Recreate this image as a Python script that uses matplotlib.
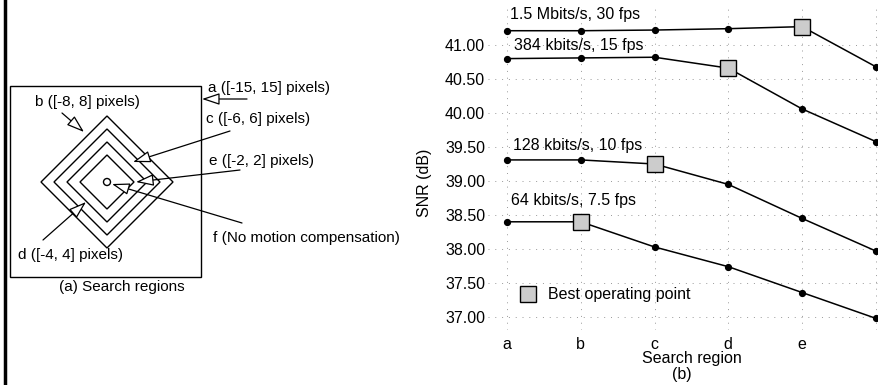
import matplotlib
matplotlib.use("Agg")
import matplotlib.pyplot as plt
from matplotlib.lines import Line2D
from matplotlib.patches import Rectangle, Polygon, Circle

plt.rcParams["font.family"] = ["Liberation Sans", "DejaVu Sans"]
plt.rcParams["font.size"] = 11.5

# --- datos de la grafica (b) ---
regiones = ["a", "b", "c", "d", "e", "f"]
etiquetas = ["1.5 Mbits/s, 30 fps", "384 kbits/s, 15 fps",
             "128 kbits/s, 10 fps", "64 kbits/s, 7.5 fps"]
snr_1500k = [41.21, 41.21, 41.22, 41.24, 41.27, 40.68]
snr_384k = [40.80, 40.81, 40.82, 40.66, 40.06, 39.58]
snr_128k = [39.31, 39.31, 39.25, 38.95, 38.45, 37.97]
snr_64k = [38.40, 38.40, 38.03, 37.74, 37.36, 36.98]
mejor_punto = [4, 3, 2, 1]  # indice de la region optima de cada serie
y_ticks = [37.0, 37.5, 38.0, 38.5, 39.0, 39.5, 40.0, 40.5, 41.0]

# --- textos del diagrama (a) ---
rangos = ["a ([-15, 15] pixels)", "b ([-8, 8] pixels)", "c ([-6, 6] pixels)",
          "d ([-4, 4] pixels)", "e ([-2, 2] pixels)", "f (No motion compensation)"]

gris = "#cccccc"

fig = plt.figure(figsize=(8.79, 3.85), dpi=100)

# capa en pixeles para el diagrama de la izquierda
ax0 = fig.add_axes([0, 0, 1, 1])
ax0.set_xlim(0, 879)
ax0.set_ylim(385, 0)
ax0.axis("off")

ax0.plot([5, 5], [0, 385], color="black", lw=2.5)
ax0.add_patch(Rectangle((10, 86), 191, 191, fill=False, ec="black", lw=1))
cx, cy = 107, 182
for h in [66, 53, 40, 27]:
    ax0.add_patch(Polygon([(cx - h, cy), (cx, cy - h), (cx + h, cy), (cx, cy + h)],
                          closed=True, fill=False, ec="black", lw=1))
ax0.add_patch(Circle((cx, cy), 3.5, fc="white", ec="black", lw=1, zorder=3))

flecha = dict(arrowstyle="-|>,head_length=0.9,head_width=0.3", fc="white",
              ec="black", lw=0.9, mutation_scale=12, shrinkA=0, shrinkB=0)
textos = [(208, 88), (35, 102), (206, 119), (18, 255), (209, 161), (213, 238)]
puntas = [((247, 99), (202, 99)), ((62, 113), (84, 132)), ((230, 131), (133, 162)),
          ((43, 240), (86, 202)), ((240, 170), (136, 182)), ((242, 223), (112, 184))]
for txt, pos, (cola, punta) in zip(rangos, textos, puntas):
    ax0.text(pos[0], pos[1], txt, ha="left", va="center", fontsize=11)
    ax0.annotate("", xy=punta, xytext=cola, arrowprops=flecha)
ax0.text(122, 287, "(a) Search regions", ha="center", va="center", fontsize=11)

# --- grafica (b) ---
ax = fig.add_axes([488 / 879, 55 / 385, 410 / 879, 325 / 385])
x = list(range(len(regiones)))
series = [snr_1500k, snr_384k, snr_128k, snr_64k]
desfases = [(3, 16), (7, 13), (6, 14), (4, 21)]
for serie, etiqueta, idx, d in zip(series, etiquetas, mejor_punto, desfases):
    ax.plot(x, serie, color="black", lw=1.1, marker="o", ms=4.2, zorder=3)
    ax.plot(x[idx], serie[idx], marker="s", ms=11.5, mfc=gris, mec="black",
            mew=1, ls="none", zorder=4)
    ax.annotate(etiqueta, xy=(0, serie[0]), xytext=d, textcoords="offset pixels",
                ha="left", va="center")

ax.set_xlim(-0.257, 5.3)
ax.set_ylim(41 - 285 / 68, 41 + 40 / 68)
ax.set_xticks(x)
ax.set_xticklabels(regiones[:5] + [""])
ax.set_yticks(y_ticks)
ax.set_yticklabels([f"{v:.2f}" for v in y_ticks])
ax.tick_params(length=0)
ax.tick_params(axis="y", pad=2)
ax.tick_params(axis="x", pad=5)
for s in ax.spines.values():
    s.set_visible(False)
ax.grid(True, color="#999999", lw=0.7, ls=(0, (1, 6)))
ax.set_axisbelow(True)
ax.patch.set_alpha(0)

caja = Line2D([], [], ls="none", marker="s", ms=11.5, mfc=gris, mec="black", mew=1)
ax.legend([caja], ["Best operating point"], loc="center left",
          bbox_to_anchor=(522 / 879, 90 / 385), bbox_transform=fig.transFigure,
          frameon=False, handlelength=0.8, handletextpad=0.8, borderpad=0,
          borderaxespad=0, fontsize=11.5)

fig.text(425 / 879, 1 - 183 / 385, "SNR (dB)", rotation=90, ha="center", va="center")
fig.text(692 / 879, 1 - 358 / 385, "Search region", ha="center", va="center")
fig.text(682 / 879, 1 - 374 / 385, "(b)", ha="center", va="center")

fig.savefig("out.png", dpi=100)
